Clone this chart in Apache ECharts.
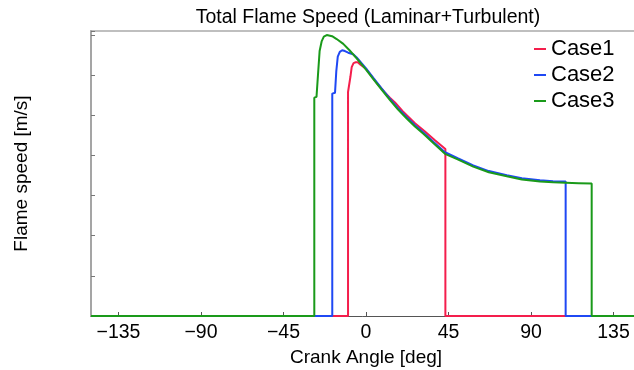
<!DOCTYPE html>
<html>
<head>
<meta charset="utf-8">
<script src="https://cdn.jsdelivr.net/npm/echarts@6/dist/echarts.min.js"></script>
<style>
  html, body { margin: 0; padding: 0; background: #fff; overflow: hidden; }
  #chart { width: 634px; height: 370px; overflow: hidden; }
</style>
</head>
<body>
<div id="chart"></div>
<script>
// crank angle [deg] and flame speed [m/s]
const case1Angle = [-150, -9.8, -9.8, -9.1, -8.5, -7.8, -6.8, -5.6, -4.5, -3, 0, 4.9, 10, 13, 15.8, 20, 26.7, 32, 37.6, 43.3, 43.3, 150];
const case1Speed = [0, 0, 27.9, 28.0, 29.8, 31.0, 31.5, 31.6, 31.6, 31.3, 30.8, 29.3, 27.9, 27.2, 26.6, 25.5, 24.0, 23.0, 21.9, 20.8, 0, 0];

const case2Angle = [-150, -18.4, -18.4, -16.9, -16.2, -15.4, -14.3, -13.0, -11.5, -9.7, -7, -5.1, 0, 4, 8.5, 13.1, 17.5, 22.2, 26.7, 31.3, 37, 43.1, 50, 58.5, 67, 76.8, 85, 94.9, 102, 108.9, 108.9, 150];
const case2Speed = [0, 0, 27.7, 27.8, 30.5, 32.3, 32.9, 33.1, 33.0, 32.8, 32.6, 32.2, 30.85, 29.65, 28.35, 27.05, 25.85, 24.75, 23.75, 22.85, 21.65, 20.4, 19.65, 18.75, 18.05, 17.55, 17.15, 16.9, 16.8, 16.75, 0, 0];

const case3Angle = [-150, -28.2, -28.2, -27.0, -26.2, -25.3, -24.2, -23, -21.4, -18.5, -16, -12.4, -9, -5.1, 0, 4, 8.5, 13.1, 17.5, 22.2, 26.7, 31.3, 37, 43.1, 50, 58.5, 67, 76.8, 85, 94.9, 102, 108.9, 116, 123.1, 123.1, 150];
const case3Speed = [0, 0, 27.2, 27.3, 30, 33.0, 34.2, 34.8, 35.0, 34.85, 34.5, 33.9, 33.1, 32.1, 30.7, 29.5, 28.2, 26.9, 25.7, 24.6, 23.6, 22.7, 21.5, 20.2, 19.5, 18.6, 17.9, 17.4, 17.0, 16.75, 16.65, 16.6, 16.55, 16.5, 0, 0];

const caseNames = ['Case1', 'Case2', 'Case3'];
const caseColors = ['#f41e4c', '#1f48f4', '#1a9a1a'];
const xTicks = [-135, -90, -45, 0, 45, 90, 135];

const zip = (xs, ys) => xs.map((x, i) => [x, ys[i]]);
const curves = [zip(case1Angle, case1Speed), zip(case2Angle, case2Speed), zip(case3Angle, case3Speed)];

const font = 'Liberation Sans, Arial, sans-serif';
const chart = echarts.init(document.getElementById('chart'));

chart.setOption({
  animation: false,
  title: {
    text: 'Total Flame Speed (Laminar+Turbulent)',
    left: 363,
    textAlign: 'center',
    top: 3,
    textStyle: { fontFamily: font, fontSize: 19.5, fontWeight: 'normal', color: '#000' }
  },
  legend: {
    orient: 'vertical',
    left: 534,
    top: 38,
    padding: 0,
    itemWidth: 12,
    itemHeight: 2,
    itemGap: 4,
    icon: 'rect',
    data: caseNames,
    textStyle: { fontFamily: font, fontSize: 22, color: '#000' }
  },
  grid: {
    left: 91, right: -7, top: 31, bottom: 54,
    outerBoundsMode: 'none',
    containLabel: false
  },
  xAxis: [{
    type: 'value',
    min: -150, max: 150,
    name: 'Crank Angle [deg]',
    nameLocation: 'middle',
    nameGap: 29,
    nameTextStyle: { fontFamily: font, fontSize: 19, color: '#000' },
    splitLine: { show: false },
    axisLine: { onZero: false, lineStyle: { color: '#555', width: 1 } },
    axisTick: { inside: true, length: 4, customValues: xTicks, lineStyle: { color: '#555' } },
    axisLabel: {
      customValues: xTicks,
      margin: 7,
      fontFamily: font, fontSize: 19.5, color: '#000',
      formatter: v => String(v).replace('-', '\u2212')
    }
  }, {
    // plain frame line along the top of the plot
    type: 'value',
    position: 'top',
    min: -150, max: 150,
    splitLine: { show: false },
    axisLine: { show: true, onZero: false, lineStyle: { color: '#aaa', width: 1.5 } },
    axisTick: { show: false },
    axisLabel: { show: false }
  }],
  yAxis: {
    type: 'value',
    min: 0, max: 35.5, interval: 5,
    name: 'Flame speed [m/s]',
    nameLocation: 'middle',
    nameGap: 60,
    nameTextStyle: { fontFamily: font, fontSize: 19, color: '#000' },
    splitLine: { show: false },
    axisLine: { show: true, onZero: false, lineStyle: { color: '#a5a5a5', width: 2 } },
    axisTick: { show: true, inside: true, length: 4, lineStyle: { color: '#777' } },
    axisLabel: { show: false }
  },
  series: curves.map((d, i) => ({
    name: caseNames[i],
    type: 'line',
    data: d,
    showSymbol: false,
    symbol: 'none',
    color: caseColors[i],
    lineStyle: { width: 2, color: caseColors[i] }
  }))
});
</script>
</body>
</html>
